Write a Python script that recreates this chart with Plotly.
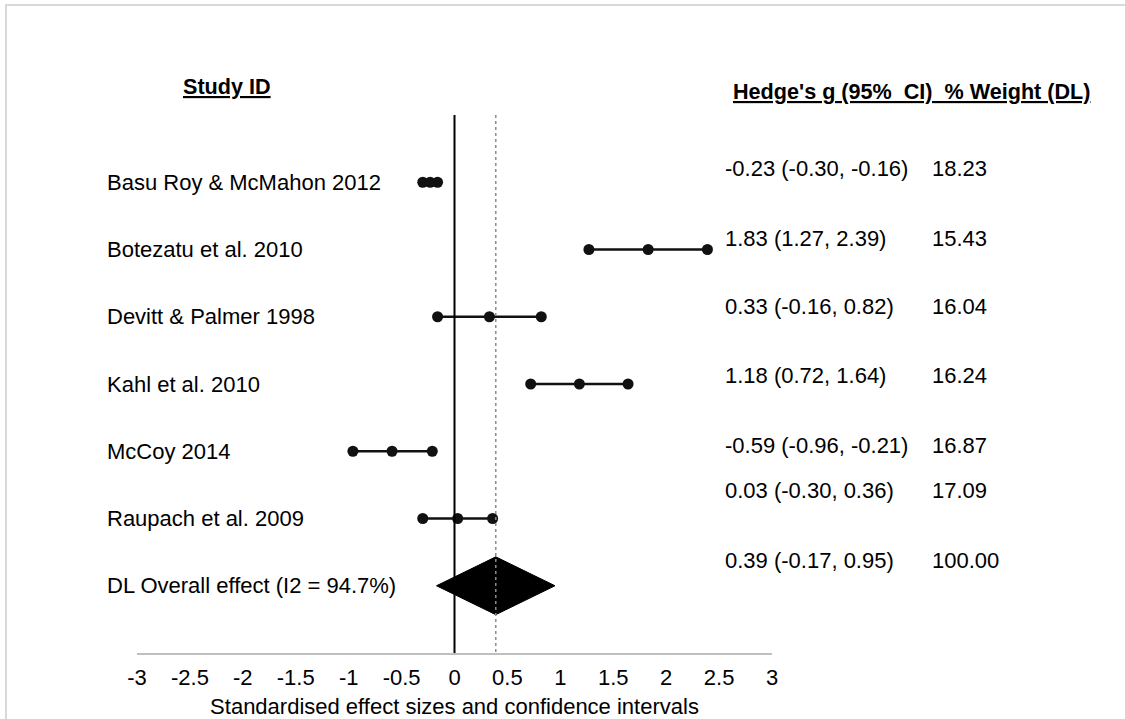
import plotly.graph_objects as go

# ---- data ----
studies = [
    "Basu Roy & McMahon 2012",
    "Botezatu et al. 2010",
    "Devitt & Palmer 1998",
    "Kahl et al. 2010",
    "McCoy 2014",
    "Raupach et al. 2009",
]
effect = [-0.23, 1.83, 0.33, 1.18, -0.59, 0.03]
ci_low = [-0.30, 1.27, -0.16, 0.72, -0.96, -0.30]
ci_high = [-0.16, 2.39, 0.82, 1.64, -0.21, 0.36]
weight = ["18.23", "15.43", "16.04", "16.24", "16.87", "17.09"]

overall_label = "DL Overall effect (I2 = 94.7%)"
overall_effect = 0.39
overall_low = -0.17
overall_high = 0.95
overall_weight = "100.00"

tick_values = [-3, -2.5, -2, -1.5, -1, -0.5, 0, 0.5, 1, 1.5, 2, 2.5, 3]
tick_labels = ["-3", "-2.5", "-2", "-1.5", "-1", "-0.5", "0", "0.5", "1", "1.5", "2", "2.5", "3"]

# ---- layout geometry (pixels) ----
W, H = 1125, 719
L, R, T, B = 137, 772, 115, 653          # plot area edges
N_ROWS = 8                                # y-units from top of plot area to axis
FONT = "Liberation Sans, Arial, sans-serif"
FS = 22


def px(xp):
    return (xp - L) / (R - L)


def py(yp):
    return (B - yp) / (B - T)


rows = list(range(1, len(studies) + 1))
overall_row = len(studies) + 1
# vertical placement of the statistics column (in row units)
stat_rows = [0.79, 1.83, 2.85, 3.88, 4.91, 5.59]
overall_stat_row = 6.63

fig = go.Figure()

# reference lines: null effect and pooled estimate
fig.add_shape(type="line", x0=0, x1=0, y0=0, y1=N_ROWS, xref="x", yref="y",
              line=dict(color="#000000", width=2))
fig.add_shape(type="line", x0=overall_effect, x1=overall_effect, y0=0, y1=N_ROWS,
              xref="x", yref="y", line=dict(color="#8c8c8c", width=1.5, dash="dot"))

# study estimates with confidence intervals
for r, lo, est, hi in zip(rows, ci_low, effect, ci_high):
    fig.add_trace(go.Scatter(
        x=[lo, est, hi], y=[r, r, r], mode="lines+markers",
        line=dict(color="#111111", width=2.5),
        marker=dict(color="#111111", size=11),
        showlegend=False, hoverinfo="skip", cliponaxis=False,
    ))

# pooled effect diamond
half_h = 0.43
fig.add_trace(go.Scatter(
    x=[overall_low, overall_effect, overall_high, overall_effect, overall_low],
    y=[overall_row, overall_row - half_h, overall_row, overall_row + half_h, overall_row],
    mode="lines", fill="toself", fillcolor="#000000",
    line=dict(color="#000000", width=1),
    showlegend=False, hoverinfo="skip",
))

annotations = []
# study labels
for r, name in zip(rows + [overall_row], studies + [overall_label]):
    annotations.append(dict(x=px(105), y=r, xref="paper", yref="y", text=name,
                            showarrow=False, xanchor="left", yanchor="middle",
                            font=dict(family=FONT, size=FS, color="#000000")))

# statistics column
est_text = [f"{e:.2f} ({lo:.2f}, {hi:.2f})" for e, lo, hi in zip(effect, ci_low, ci_high)]
est_text.append(f"{overall_effect:.2f} ({overall_low:.2f}, {overall_high:.2f})")
for yr, txt, w in zip(stat_rows + [overall_stat_row], est_text, weight + [overall_weight]):
    annotations.append(dict(x=px(723), y=yr, xref="paper", yref="y", text=txt,
                            showarrow=False, xanchor="left", yanchor="middle",
                            font=dict(family=FONT, size=FS, color="#000000")))
    annotations.append(dict(x=px(930), y=yr, xref="paper", yref="y", text=w,
                            showarrow=False, xanchor="left", yanchor="middle",
                            font=dict(family=FONT, size=FS, color="#000000")))

# column headers
annotations.append(dict(x=px(227), y=py(86), xref="paper", yref="paper",
                        text="<b><u>Study ID</u></b>", showarrow=False,
                        xanchor="center", yanchor="middle",
                        font=dict(family=FONT, size=21.6, color="#000000")))
annotations.append(dict(x=px(731), y=py(91), xref="paper", yref="paper",
                        text="<b><u>Hedge's g (95%  CI)  % Weight (DL)</u></b>",
                        showarrow=False, xanchor="left", yanchor="middle",
                        font=dict(family=FONT, size=21.6, color="#000000")))

# outer frame
fig.add_shape(type="rect", xref="paper", yref="paper",
              x0=px(6), x1=px(1140), y0=py(730), y1=py(5),
              line=dict(color="#d9d9d9", width=2), fillcolor="rgba(0,0,0,0)",
              layer="below")

fig.update_layout(
    width=W, height=H,
    margin=dict(l=L, r=W - R, t=T, b=H - B, pad=0, autoexpand=False),
    paper_bgcolor="#ffffff", plot_bgcolor="#ffffff",
    annotations=annotations,
    font=dict(family=FONT, size=FS, color="#000000"),
    showlegend=False,
)
fig.update_xaxes(
    range=[-3, 3], tickmode="array", tickvals=tick_values, ticktext=tick_labels,
    showgrid=False, zeroline=False, showline=True, linecolor="#bfbfbf", linewidth=2,
    ticks="", ticklabelstandoff=4, tickfont=dict(family=FONT, size=FS, color="#000000"),
    title=dict(text="Standardised effect sizes and confidence intervals",
               font=dict(family=FONT, size=FS, color="#000000"), standoff=10),
    automargin=False, fixedrange=True,
)
fig.update_yaxes(
    range=[N_ROWS, 0], showgrid=False, zeroline=False, showline=False,
    showticklabels=False, ticks="", automargin=False, fixedrange=True,
)

fig.write_html("out.html")
